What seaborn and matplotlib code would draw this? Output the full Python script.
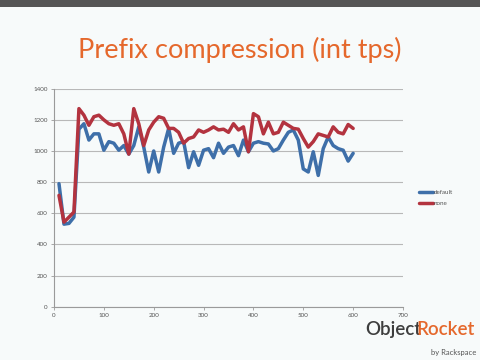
import matplotlib
matplotlib.use("Agg")
import matplotlib.pyplot as plt
import seaborn as sns
import pandas as pd
from matplotlib.patches import Rectangle

x_vals = [10, 20, 30, 40, 50, 60, 70, 80, 90, 100,
          110, 120, 130, 140, 150, 160, 170, 180, 190, 200,
          210, 220, 230, 240, 250, 260, 270, 280, 290, 300,
          310, 320, 330, 340, 350, 360, 370, 380, 390, 400,
          410, 420, 430, 440, 450, 460, 470, 480, 490, 500,
          510, 520, 530, 540, 550, 560, 570, 580, 590, 600]

default_vals = [790, 530, 535, 575, 1140, 1175, 1070, 1110, 1110, 1005,
                1060, 1050, 1005, 1035, 980, 1035, 1155, 1025, 865, 1000,
                865, 1025, 1145, 985, 1050, 1060, 893, 995, 908, 1005,
                1015, 957, 1050, 985, 1025, 1035, 970, 1070, 995, 1050,
                1060, 1050, 1045, 1000, 1015, 1070, 1120, 1135, 1070, 885,
                865, 995, 843, 1015, 1090, 1035, 1015, 1005, 935, 985]

none_vals = [715, 543, 575, 608, 1272, 1230, 1165, 1220, 1230, 1200,
             1175, 1165, 1175, 1110, 980, 1272, 1175, 1035, 1135, 1185,
             1220, 1210, 1145, 1145, 1120, 1050, 1080, 1090, 1135, 1120,
             1135, 1155, 1135, 1140, 1120, 1175, 1135, 1155, 995, 1240,
             1220, 1110, 1185, 1110, 1120, 1185, 1165, 1145, 1140, 1080,
             1025, 1060, 1110, 1100, 1090, 1155, 1120, 1110, 1170, 1145]

series_names = ["default", "none"]
x_ticks = [0, 100, 200, 300, 400, 500, 600, 700]
y_ticks = [0, 200, 400, 600, 800, 1000, 1200, 1400]

df = pd.DataFrame({
    "x": x_vals * 2,
    "tps": default_vals + none_vals,
    "series": [series_names[0]] * len(x_vals) + [series_names[1]] * len(x_vals),
})

sns.set_theme(style="white")
plt.rcParams["font.family"] = ["Lato", "DejaVu Sans"]

bg = "#f7fafa"
fig = plt.figure(figsize=(4.8, 3.6), dpi=100, facecolor=bg)

# top menu bar of the screenshot
fig.patches.append(Rectangle((0, 353 / 360), 1, 7 / 360, transform=fig.transFigure,
                             facecolor="#555555", edgecolor="none", zorder=0))

ax = fig.add_axes([54 / 480, (360 - 306.7) / 360, 349 / 480, 218 / 360])
ax.set_facecolor(bg)

palette = {"default": "#3e6fa9", "none": "#b3333f"}
sns.lineplot(data=df, x="x", y="tps", hue="series", palette=palette, ax=ax,
             linewidth=2.5, legend=True)

ax.set_xlim(0, 700)
ax.set_ylim(0, 1400)
ax.set_xticks(x_ticks)
ax.set_yticks(y_ticks)
ax.set_xticklabels([str(t) for t in x_ticks], fontsize=4.5, color="#555555")
ax.set_yticklabels([str(t) for t in y_ticks], fontsize=4.5, color="#555555")
ax.set_xlabel("")
ax.set_ylabel("")
ax.yaxis.grid(True, color="#b8b8b8", linewidth=0.8)
ax.set_axisbelow(True)
for s in ["top", "right"]:
    ax.spines[s].set_visible(False)
for s in ["left", "bottom"]:
    ax.spines[s].set_color("#9a9a9a")
    ax.spines[s].set_linewidth(0.8)
ax.tick_params(axis="x", length=2.5, width=0.6, color="#9a9a9a", pad=2, bottom=True)
ax.tick_params(axis="y", length=2.5, width=0.6, color="#9a9a9a", pad=2, left=True)

leg = ax.legend(loc="center left", bbox_to_anchor=(1.04, 0.5), frameon=False,
                fontsize=4.5, handlelength=2.2, handletextpad=0.1, labelspacing=0.9,
                borderaxespad=0)
for txt in leg.get_texts():
    txt.set_color("#555555")

fig.text(0.5, 1 - 50 / 360, "Prefix compression (int tps)", ha="center", va="center",
         fontsize=19.5, color="#e5682c")

# logo text
fig.text(421 / 480, 1 - 335 / 360, "Object", ha="right", va="baseline", fontsize=13.5,
         color="#3d3d3d", fontweight="semibold")
fig.text(416 / 480, 1 - 335 / 360, "Rocket", ha="left", va="baseline", fontsize=13.5,
         color="#e5682c", fontweight="semibold")
fig.text(476 / 480, 1 - 352 / 360, "by Rackspace", ha="right", va="center", fontsize=5.5,
         color="#555555")

fig.savefig("out.png", dpi=100, facecolor=bg)
